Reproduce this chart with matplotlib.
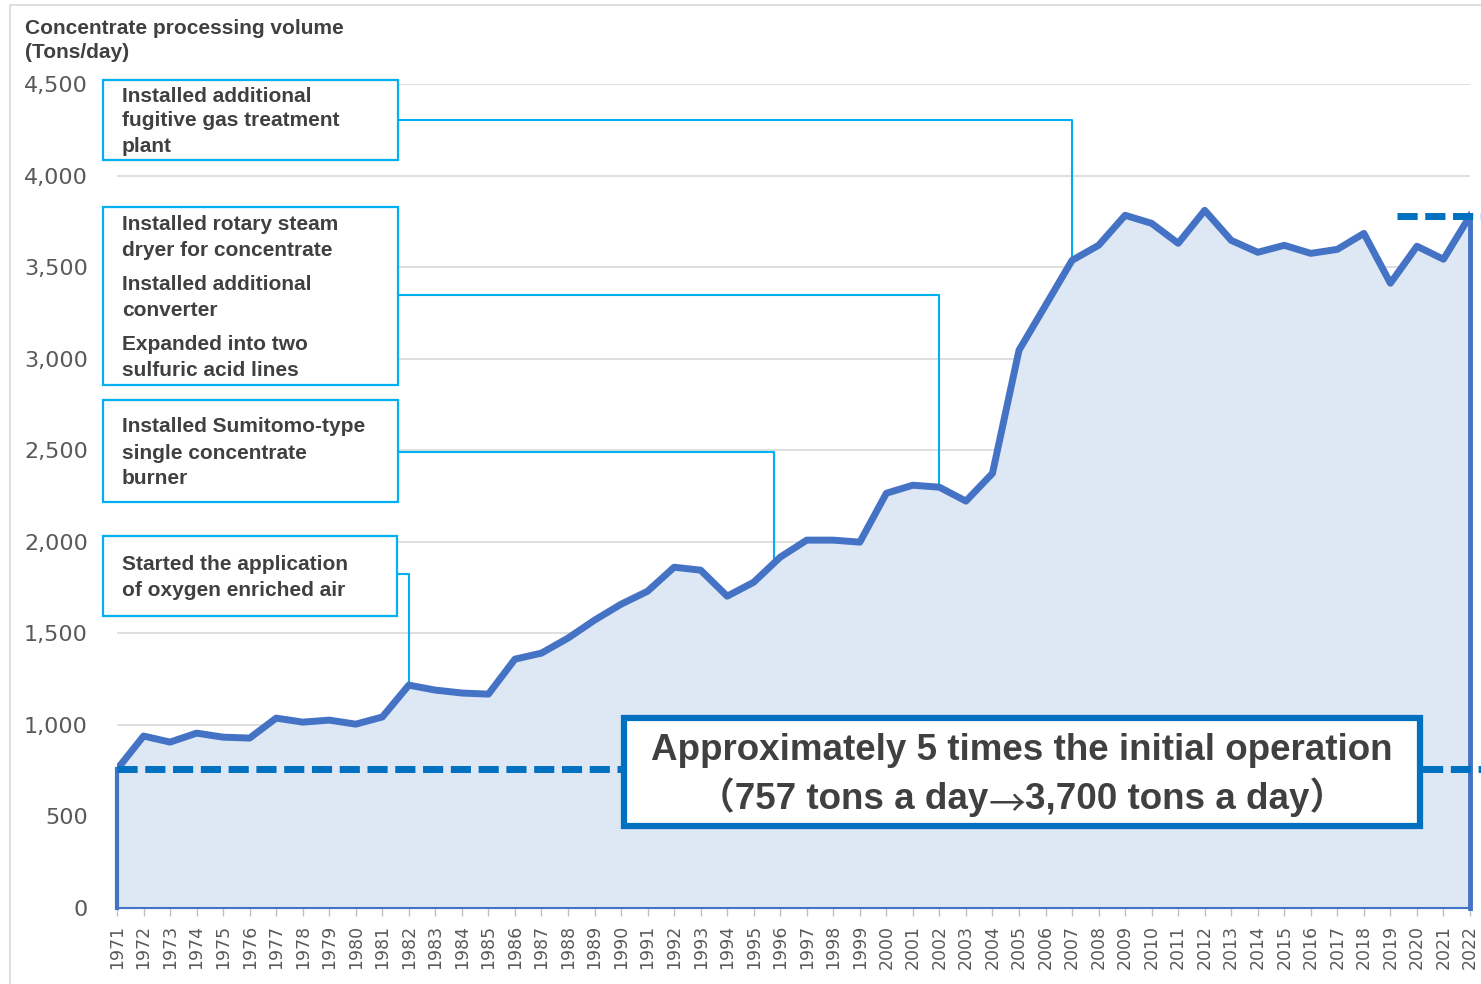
import numpy as np
import matplotlib.pyplot as plt
from matplotlib.patches import Rectangle

# Data
years = list(range(1971, 2023))
volume = [757, 939, 906, 955, 933, 928, 1037, 1015, 1026, 1004,
          1043, 1217, 1190, 1174, 1168, 1359, 1392, 1474, 1572, 1659,
          1730, 1861, 1845, 1703, 1779, 1916, 2009, 2009, 1998, 2265,
          2309, 2298, 2222, 2374, 3046, 3291, 3537, 3619, 3783, 3739,
          3630, 3810, 3646, 3581, 3619, 3575, 3597, 3684, 3412, 3614,
          3543, 3780]
yticks = [0, 500, 1000, 1500, 2000, 2500, 3000, 3500, 4000, 4500]

# annotation boxes: (year the connector points at, text lines)
ann_years = [2007, 2002, 1995.75, 1982]
ann_texts = [
    ["Installed additional", "fugitive gas treatment", "plant"],
    ["Installed rotary steam", "dryer for concentrate",
     "Installed additional", "converter",
     "Expanded into two", "sulfuric acid lines"],
    ["Installed Sumitomo-type", "single concentrate", "burner"],
    ["Started the application", "of oxygen enriched air"],
]
# box layout in pixels: left, top, right, bottom, connector y, line y's
ann_boxes = [
    (103, 80, 398, 160, 120, [96, 121, 147]),
    (103, 207, 398, 385, 295, [225, 251, 285, 310, 344, 370]),
    (103, 400, 398, 502, 452, [427, 453, 478]),
    (103, 536, 397, 616, 574, [565, 590]),
]

W, H = 1481, 984
LINE = '#4472C4'
FILL = '#DEE8F5'
DARKBLUE = '#0070C0'
CYAN = '#00B0F0'
TXT = '#404040'
GRAY = '#595959'
FONT = ['Liberation Sans', 'Noto Sans CJK JP', 'DejaVu Sans']

fig = plt.figure(figsize=(W / 100, H / 100), dpi=100)
ax = fig.add_axes([117 / W, 1 - 908 / H, (1470 - 117) / W, (908 - 84) / H])


def fx(px):
    return px / W


def fy(py):
    return 1 - py / H


def to_data(px, py):
    return ax.transData.inverted().transform((px, H - py))


ax.set_xlim(years[0], years[-1])
ax.set_ylim(0, 4500)
ax.set_yticks(yticks)
ax.set_yticklabels([f"{v:,}" for v in yticks])
ax.set_xticks(years)
ax.set_xticklabels([str(y) for y in years], rotation=90)
ax.tick_params(axis='y', length=0, pad=21, labelsize=16, labelcolor=GRAY)
ax.tick_params(axis='x', length=6, width=1, color='#BFBFBF', pad=6,
               labelsize=12.5, labelcolor=GRAY)
ax.yaxis.grid(True, color='#D9D9D9', lw=1.2)
ax.set_axisbelow(True)
for s in ['top', 'right', 'left']:
    ax.spines[s].set_visible(False)
ax.spines['bottom'].set_color('#D9D9D9')

# area + line
ax.fill_between(years, volume, color=FILL, lw=0, zorder=1)
ax.plot(years, volume, color=LINE, lw=5, solid_joinstyle='round', zorder=3)
ax.plot([years[0], years[0]], [0, volume[0]], color=LINE, lw=3, zorder=3,
        clip_on=False)
ax.plot([years[-1], years[-1]], [0, volume[-1]], color=LINE, lw=3.5, zorder=3,
        clip_on=False)
ax.plot([years[0], years[-1]], [0, 0], color=LINE, lw=1.5, zorder=3, clip_on=False)

# dashed reference lines
x_right = to_data(W, 0)[0]
ax.plot([years[0], x_right], [volume[0], volume[0]], color=DARKBLUE, lw=5,
        linestyle=(0, (2.9, 1.1)), clip_on=False, zorder=4)
ax.plot([years[-1] - 2.75, x_right], [volume[-1], volume[-1]], color=DARKBLUE,
        lw=5, linestyle=(0, (2.9, 1.1)), clip_on=False, zorder=4)

# axis title
fig.text(fx(25), fy(28), "Concentrate processing volume", ha='left',
         va='center', fontsize=15, fontweight='bold', color=TXT, family=FONT)
fig.text(fx(25), fy(52), "(Tons/day)", ha='left', va='center',
         fontsize=15, fontweight='bold', color=TXT, family=FONT)

# annotation boxes with connectors
for yr, lines, box in zip(ann_years, ann_texts, ann_boxes):
    l, t, r, b, cy, ly = box
    fig.add_artist(Rectangle((fx(l), fy(b)), fx(r) - fx(l), fy(t) - fy(b),
                             transform=fig.transFigure, facecolor='white',
                             edgecolor=CYAN, lw=1.6, zorder=5))
    for txt, py in zip(lines, ly):
        fig.text(fx(122), fy(py), txt, ha='left', va='center', fontsize=15,
                 fontweight='bold', color=TXT, family=FONT, zorder=6)
    x0, y0 = to_data(r, cy)
    yv = np.interp(yr, years, volume)
    ax.plot([x0, yr, yr], [y0, y0, yv], color=CYAN, lw=1.5, clip_on=False,
            zorder=2.5)

# summary box
fig.add_artist(Rectangle((fx(624), fy(826)), fx(1420) - fx(624),
                         fy(718) - fy(826), transform=fig.transFigure,
                         facecolor='white', edgecolor=DARKBLUE, lw=4.5,
                         zorder=5))
fig.text(fx(1022), fy(751), "Approximately 5 times the initial operation",
         ha='center', va='center', fontsize=26.5, fontweight='bold', color=TXT,
         family=FONT, zorder=6)

# second line: pieces so the arrow can use the full-width CJK glyph
pieces = [("（757 tons a day", FONT, 'bold'),
          ("→", ['Noto Sans CJK JP'], 'normal'),
          ("3,700 tons a day）", FONT, 'bold')]
renderer = fig.canvas.get_renderer()
parts = []
for s, fam, wt in pieces:
    t = fig.text(0, fy(797), s, ha='left', va='center_baseline' if s == "→" else 'center',
                 fontsize=26.5, fontweight=wt, color=TXT, family=fam, zorder=6)
    parts.append(t)
widths = [t.get_window_extent(renderer).width for t in parts]
x = 1022 - sum(widths) / 2
for t, w in zip(parts, widths):
    t.set_x(fx(x))
    x += w
parts[1].set_y(fy(797) - 0.004)

# outer frame
fig.add_artist(Rectangle((fx(10), fy(H + 20)), 1.0, fy(5) - fy(H + 20),
                         transform=fig.transFigure, facecolor='none',
                         edgecolor='#D9D9D9', lw=1.2, zorder=0))

fig.savefig("out.png", dpi=100)
